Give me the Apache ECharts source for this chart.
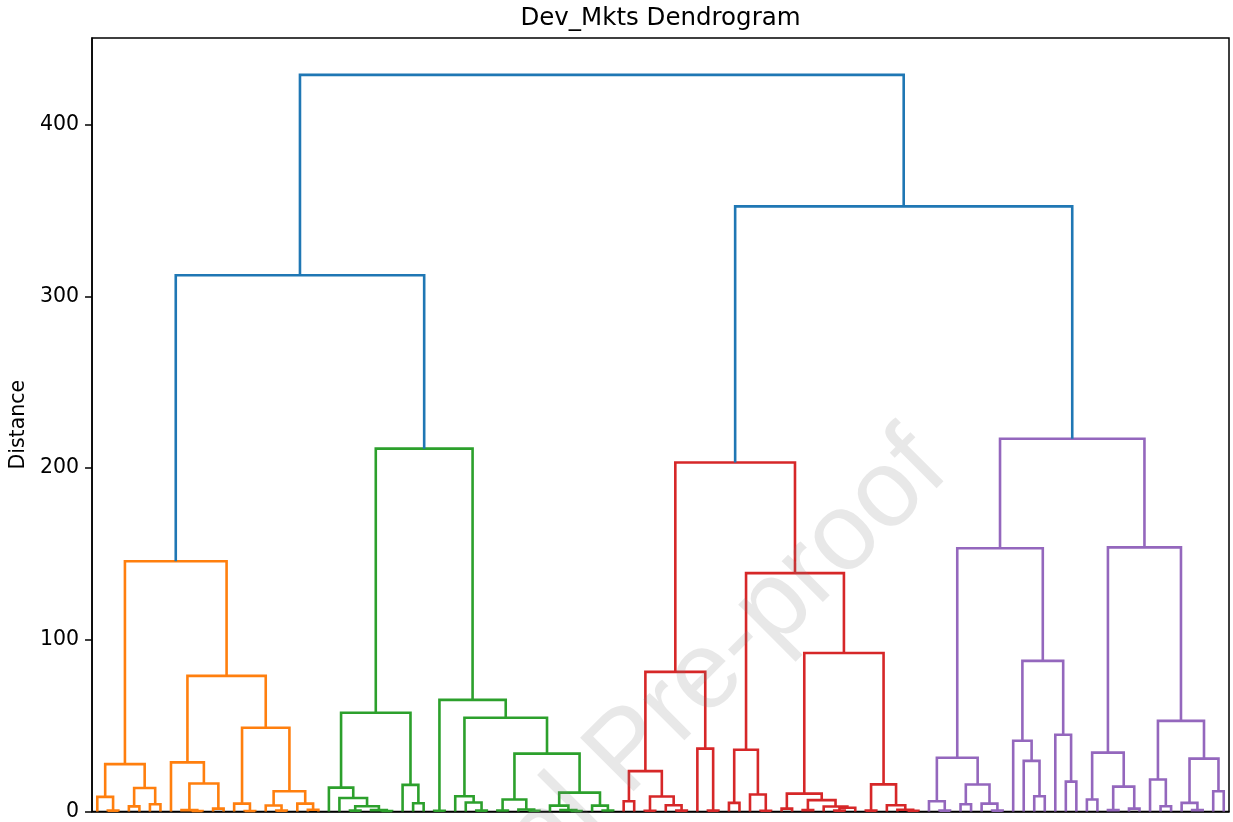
<!DOCTYPE html>
<html>
<head>
<meta charset="utf-8">
<script src="https://cdn.jsdelivr.net/npm/echarts@6/dist/echarts.min.js"></script>
<style>
  html, body { margin: 0; padding: 0; background: #fff; }
  #chart { width: 1233px; height: 822px; }
</style>
</head>
<body>
<div id="chart"></div>
<script>
// Each subtree is [mergeDistance, leftChild, rightChild]; a single market (leaf) is [].
const orangeCluster = [145.7,
  [27.6,
    [8.5, [], [0.5, [], []]],
    [13.7, [3.0, [], []], [4.2, [], []]]],
  [79.0,
    [28.6, [], [16.3, [0.8, [], [0.3, [], []]], [1.7, [], []]]],
    [48.8,
      [4.6, [], [0.3, [], []]],
      [11.8, [3.5, [], [0.5, [], []]], [4.6, [], [1.0, [], []]]]]]];

const greenCluster = [211.3,
  [57.5,
    [13.9, [], [7.9, [], [3.1, [0.5, [], []], [0.8, [], [0.3, [], []]]]]],
    [15.5, [], [4.8, [], []]]],
  [65.0,
    [0.4, [], []],
    [54.6,
      [8.9, [], [5.2, [], [0.5, [], []]]],
      [33.7,
        [7.0, [0.6, [], []], [1.2, [], [0.4, [], []]]],
        [11.0, [3.4, [], [0.8, [], [0.3, [], []]]], [3.4, [], [0.6, [], []]]]]]]];

const redCluster = [203.2,
  [81.3,
    [23.5, [6.0, [], []], [8.7, [0.4, [], []], [3.6, [], [0.5, [], []]]]],
    [36.6, [], [0.5, [], []]]],
  [138.8,
    [36.0, [5.0, [], []], [9.9, [], [0.4, [], []]]],
    [92.3,
      [10.4, [1.7, [], []], [6.6, [0.8, [], []], [2.9, [], [2.2, [0.5, [], []], []]]]],
      [15.8, [0.5, [], []], [3.6, [], [1.0, [], [0.4, [], []]]]]]]];

const purpleCluster = [217.1,
  [153.3,
    [31.3, [6.0, [], [0.5, [], []]], [15.7, [4.2, [], []], [4.6, [], [0.5, [], []]]]],
    [87.7, [41.2, [], [29.5, [], [8.9, [], []]]], [44.7, [], [17.4, [], []]]]],
  [153.8,
    [34.3, [7.0, [], []], [14.5, [0.8, [], []], [1.7, [], []]]],
    [52.8, [18.6, [], [3.1, [], []]], [30.8, [5.0, [], [0.8, [], []]], [11.8, [], []]]]]];

// Merges above the colour threshold
const leftJoinDistance = 312.3;   // orange + green
const rightJoinDistance = 352.4;  // red + purple
const rootDistance = 429.0;

const distanceTicks = [0, 100, 200, 300, 400];

const clusterColors = ['#ff7f0e', '#2ca02c', '#d62728', '#9467bd'];
const aboveThresholdColor = '#1f77b4';

// Lay out leaves at 5, 15, 25, ... and collect one U-shaped link per merge
let leafCount = 0;
const links = [];
const linkColors = [];
function place(node, color) {
  if (node.length === 0) {
    const x = leafCount * 10 + 5;
    leafCount++;
    return { x: x, h: 0 };
  }
  const left = place(node[1], color);
  const right = place(node[2], color);
  links.push([left.x, left.h, right.x, right.h, node[0]]);
  linkColors.push(color);
  return { x: (left.x + right.x) / 2, h: node[0] };
}
function join(a, b, h) {
  links.push([a.x, a.h, b.x, b.h, h]);
  linkColors.push(aboveThresholdColor);
  return { x: (a.x + b.x) / 2, h: h };
}

const oTop = place(orangeCluster, clusterColors[0]);
const gTop = place(greenCluster, clusterColors[1]);
const rTop = place(redCluster, clusterColors[2]);
const pTop = place(purpleCluster, clusterColors[3]);
const leftTop = join(oTop, gTop, leftJoinDistance);
const rightTop = join(rTop, pTop, rightJoinDistance);
join(leftTop, rightTop, rootDistance);

const chart = echarts.init(document.getElementById('chart'), null, { renderer: 'canvas' });

const font = 'DejaVu Sans';

chart.setOption({
  animation: false,
  backgroundColor: '#ffffff',
  grid: {
    left: 92, top: 38, width: 1137, height: 775,
    show: true, borderColor: '#000', borderWidth: 1.5, backgroundColor: 'transparent'
  },
  xAxis: {
    type: 'value', min: 0, max: leafCount * 10,
    axisLine: { show: true, onZero: false, lineStyle: { color: '#000', width: 1.5 } },
    axisTick: { show: false },
    axisLabel: { show: false },
    splitLine: { show: false }
  },
  yAxis: {
    type: 'value', min: 0, max: rootDistance * 1.05,
    axisLine: { show: true, lineStyle: { color: '#000', width: 1.5 } },
    axisTick: { show: true, inside: false, length: 7, customValues: distanceTicks,
                lineStyle: { color: '#000', width: 1.5 } },
    axisLabel: { customValues: distanceTicks, color: '#000', fontSize: 20.5,
                 fontFamily: font, margin: 13 },
    splitLine: { show: false },
    name: 'Distance', nameLocation: 'middle', nameGap: 61,
    nameTextStyle: { color: '#000', fontSize: 20.5, fontFamily: font }
  },
  graphic: [
    {
      type: 'text', x: 660.5, y: 18.5, z: 10,
      style: { text: 'Dev_Mkts Dendrogram', fill: '#000',
               font: '24.5px "DejaVu Sans"', align: 'center', verticalAlign: 'middle' }
    },
    {
      type: 'text', x: 930, y: 452, rotation: Math.PI / 4, z: 100,
      style: { text: 'Journal Pre-proof', fill: 'rgba(128,128,128,0.18)',
               font: '110px "Liberation Sans"', align: 'right', verticalAlign: 'middle' }
    }
  ],
  series: [{
    type: 'custom',
    data: links,
    encode: { x: [0, 2], y: [1, 3, 4] },
    renderItem: function (params, api) {
      const pts = [
        api.coord([api.value(0), api.value(1)]),
        api.coord([api.value(0), api.value(4)]),
        api.coord([api.value(2), api.value(4)]),
        api.coord([api.value(2), api.value(3)])
      ];
      return {
        type: 'polyline',
        shape: { points: pts },
        style: { stroke: linkColors[params.dataIndex], lineWidth: 2.6, fill: null }
      };
    }
  }]
});
</script>
</body>
</html>
